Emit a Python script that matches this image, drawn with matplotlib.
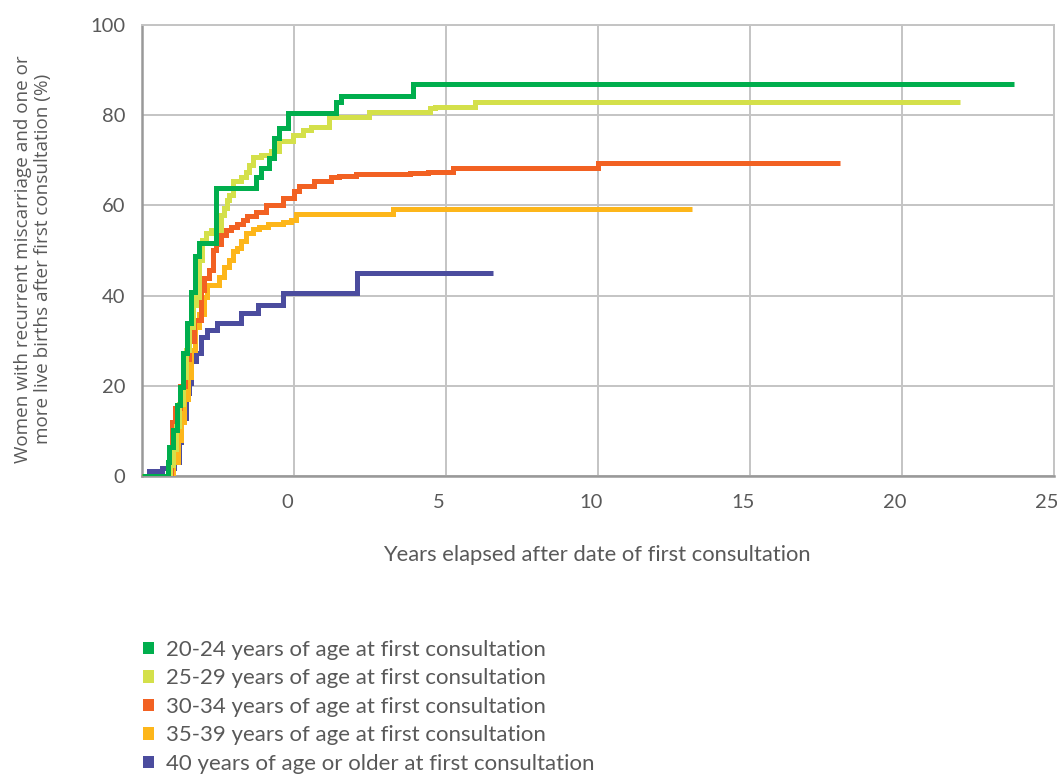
import matplotlib
matplotlib.use("Agg")
import matplotlib.pyplot as plt
import matplotlib.transforms as mtransforms
from matplotlib.patches import Patch

# step curves: x = years, y = % (step happens at x, value holds until next x)
g2024_x = [-5, -4.16, -4.11, -3.97, -3.86, -3.75, -3.64, -3.53, -3.40, -3.26, -3.14,
           -2.57, -1.25, -1.09, -0.81, -0.65, -0.48, -0.21, 1.38, 1.55, 3.91, 23.7]
g2024_y = [0, 3.2, 6.5, 10.2, 15.8, 19.8, 27.2, 33.9, 40.9, 48.7, 51.6,
           63.8, 66.4, 68.3, 70.5, 74.9, 77.1, 80.5, 82.9, 84.2, 86.9, 86.9]

g2529_x = [-5, -4.08, -3.98, -3.88, -3.77, -3.66, -3.55, -3.45, -3.33, -3.21, -3.12,
           -3.01, -2.90, -2.74, -2.41, -2.30, -2.19, -2.13, -2.02, -1.75, -1.58, -1.47,
           -1.36, -1.09, -0.76, -0.48, -0.04, 0.29, 0.56, 1.16, 2.48, 4.46, 4.63, 5.94, 21.92]
g2529_y = [0, 2.5, 6, 11, 16, 22, 28, 33, 38, 39.8, 47.9,
           52.4, 53.8, 54.6, 57.9, 59.4, 61.2, 62.3, 65.3, 66.4, 67.5, 69.0,
           70.8, 71.2, 72.0, 74.2, 75.7, 76.8, 77.3, 79.7, 80.8, 81.6, 81.9, 83.0, 83.0]

g3034_x = [-5, -4.06, -4.00, -3.90, -3.75, -3.60, -3.45, -3.30, -3.07, -2.96, -2.79,
           -2.68, -2.57, -2.41, -2.24, -2.08, -1.86, -1.69, -1.53, -1.25, -0.92, -0.37,
           0.01, 0.17, 0.67, 1.22, 1.49, 2.04, 3.80, 4.41, 5.23, 10.01, 17.97]
g3034_y = [0, 5, 12, 15, 20, 26, 30, 34.6, 41.3, 43.9, 45.7,
           50.1, 51.5, 53.5, 54.6, 55.2, 55.9, 56.8, 57.7, 58.6, 60.1, 61.6,
           63.1, 64.2, 65.5, 66.3, 66.6, 66.9, 67.2, 67.5, 68.3, 69.4, 69.4]

g3539_x = [-5, -3.99, -3.82, -3.73, -3.63, -3.50, -3.40, -3.26, -3.12, -2.96, -2.85,
           -2.46, -2.30, -2.13, -2.02, -1.86, -1.75, -1.58, -1.36, -1.14, -0.87, -0.37,
           -0.10, 0.07, 3.25, 13.09]
g3539_y = [0, 3, 8, 12, 17, 22, 28, 33, 36, 39.8, 42.4,
           44.2, 46.4, 47.9, 49.8, 50.5, 52.0, 53.8, 54.8, 55.3, 55.9, 56.4,
           56.8, 58.1, 59.2, 59.2]

g40_x = [-5, -4.77, -4.33, -3.95, -3.78, -3.73, -3.56, -3.45, -3.40, -3.23, -3.07,
         -2.85, -2.52, -1.75, -1.20, -0.37, 2.08, 6.53]
g40_y = [0, 1.0, 1.8, 3.2, 7.6, 12.8, 18.3, 20.6, 25.4, 27.2, 30.9,
         32.4, 33.9, 36.1, 37.9, 40.5, 45.1, 45.1]

labels = ["20-24 years of age at first consultation",
          "25-29 years of age at first consultation",
          "30-34 years of age at first consultation",
          "35-39 years of age at first consultation",
          "40 years of age or older at first consultation"]
colors = ["#00AE4D", "#D4E04A", "#F26122", "#FDB61A", "#4B4C9E"]

x_ticks = [0, 5, 10, 15, 20, 25]
y_ticks = [0, 20, 40, 60, 80, 100]

txt = "#595959"
plt.rcParams["font.family"] = ["Lato", "DejaVu Sans"]

fig = plt.figure(figsize=(10.57, 7.78), dpi=100)
ax = fig.add_axes([142 / 1057, 1 - 476 / 778, 912 / 1057, 451 / 778])

series = [(g2024_x, g2024_y), (g2529_x, g2529_y), (g3034_x, g3034_y),
          (g3539_x, g3539_y), (g40_x, g40_y)]
# draw oldest group first so the youngest sits on top
for i in reversed(range(5)):
    xs, ys = series[i]
    ax.step(xs, ys, where="post", color=colors[i], lw=3.6,
            solid_joinstyle="miter", solid_capstyle="butt", zorder=3 + (4 - i))

ax.set_xlim(-5, 25)
ax.set_ylim(0, 100)
ax.set_xticks(x_ticks)
ax.set_yticks(y_ticks)
ax.grid(True, color="#C4C4C4", lw=1.4, zorder=0)
ax.set_axisbelow(True)

for s in ["top", "right"]:
    ax.spines[s].set_color("#C4C4C4")
    ax.spines[s].set_linewidth(1.4)
for s in ["left", "bottom"]:
    ax.spines[s].set_color("#999999")
    ax.spines[s].set_linewidth(1.8)

ax.tick_params(axis="both", length=0, labelsize=14.5, labelcolor=txt)
ax.tick_params(axis="x", pad=13)
ax.tick_params(axis="y", pad=12)
shift = mtransforms.ScaledTranslation(-7 / 100, 0, fig.dpi_scale_trans)
for lab in ax.get_xticklabels():
    lab.set_transform(lab.get_transform() + shift)

fig.text(383 / 1057, 1 - 555 / 778, "Years elapsed after date of first consultation",
         fontsize=15.8, color=txt, va="center", ha="left")
fig.text(33 / 1057, 1 - 259 / 778,
         "Women with recurrent miscarriage and one or\nmore live births after first consultation (%)",
         fontsize=13.6, color=txt, rotation=90, va="center", ha="center",
         multialignment="center", family=["Open Sans", "DejaVu Sans"], linespacing=1.15)

handles = [Patch(facecolor=c, edgecolor="none") for c in colors]
ax.legend(handles, labels, loc="upper left", bbox_to_anchor=(143 / 1057, 1 - 640 / 778),
          bbox_transform=fig.transFigure, frameon=False, fontsize=16,
          labelcolor=txt, handlelength=0.5, handleheight=0.5, handletextpad=0.55,
          labelspacing=0.38, borderpad=0, borderaxespad=0)

fig.savefig("out.png", dpi=100)
